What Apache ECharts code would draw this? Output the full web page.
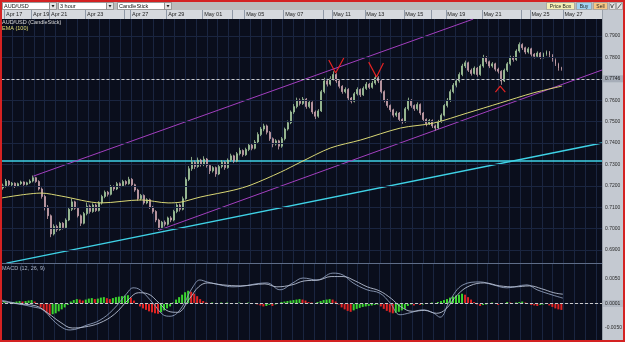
<!DOCTYPE html>
<html><head><meta charset="utf-8">
<script src="https://cdn.jsdelivr.net/npm/echarts@6/dist/echarts.min.js"></script>
<style>html,body{margin:0;padding:0;background:#fff}#c{width:625px;height:342px}</style>
</head><body><div id="c"></div>
<script>
// ---------------- DATA (prices in 1e-4 units, i.e. pips) ----------------
const SLOTS = 200; // 3-hour slots shown on the time axis
const dateTicks = [1,10,16,28,41,43,55,67,77,81,94,107,110,121,134,143,148,160,173,176,187];
const dateNames = ['Apr 17','Apr 19','Apr 21','Apr 23','','Apr 27','Apr 29','May 01','','May 05','May 07','','May 11','May 13','May 15','','May 19','May 21','','May 25','May 27'];

const opens = [7190,7200,7222,7205,7212,7198,7210,7218,7206,7214, 7222,7238,7220,7185,7150,7100,7060,6975,7010,6995, 7025,7005,7040,7090,7125,7095,7060,7025,7070,7105, 7080,7110,7085,7120,7150,7170,7160,7195,7185,7210, 7200,7220,7210,7230,7205,7180,7140,7155,7120,7135, 7100,7080,7040,7005,7030,7020,7050,7040,7080,7110, 7090,7140,7230,7280,7310,7290,7320,7300,7325,7295, 7270,7285,7255,7290,7310,7285,7320,7340,7315,7350, 7365,7345,7370,7390,7375,7405,7440,7465,7480,7450, 7420,7395,7410,7385,7420,7465,7495,7545,7570,7600, 7585,7605,7570,7590,7545,7525,7550,7640,7690,7675, 7700,7720,7690,7665,7640,7650,7610,7595,7630,7650, 7625,7655,7675,7660,7680,7705,7690,7640,7600,7575, 7555,7530,7540,7510,7500,7560,7600,7575,7560,7580, 7540,7510,7490,7505,7480,7470,7500,7530,7575,7600, 7640,7670,7690,7720,7760,7775,7740,7725,7750,7720, 7760,7800,7780,7760,7770,7745,7735,7690,7740,7770, 7800,7790,7830,7860,7845,7825,7840,7815,7805,7820, 7800,7815,7825,7810,7790,7770,7750];
const closes = [7200,7222,7205,7212,7198,7210,7218,7206,7214,7222, 7238,7220,7185,7150,7100,7060,6975,7010,6995,7025, 7005,7040,7090,7125,7095,7060,7025,7070,7105,7080, 7110,7085,7120,7150,7170,7160,7195,7185,7210,7200, 7220,7210,7230,7205,7180,7140,7155,7120,7135,7100, 7080,7040,7005,7030,7020,7050,7040,7080,7110,7090, 7140,7230,7280,7310,7290,7320,7300,7325,7295,7270, 7285,7255,7290,7310,7285,7320,7340,7315,7350,7365, 7345,7370,7390,7375,7405,7440,7465,7480,7450,7420, 7395,7410,7385,7420,7465,7495,7545,7570,7600,7585, 7605,7570,7590,7545,7525,7550,7640,7690,7675,7700, 7720,7690,7665,7640,7650,7610,7595,7630,7650,7625, 7655,7675,7660,7680,7705,7690,7640,7600,7575,7555, 7530,7540,7510,7500,7560,7600,7575,7560,7580,7540, 7510,7490,7505,7480,7470,7500,7530,7575,7600,7640, 7670,7690,7720,7760,7775,7740,7725,7750,7720,7760, 7800,7780,7760,7770,7745,7735,7690,7740,7770,7800, 7790,7830,7860,7845,7825,7840,7815,7805,7820,7800, 7815,7825,7810,7790,7770,7750,7746];
const lows = [7182,7192,7198,7199,7190,7194,7204,7200,7202,7209, 7216,7214,7178,7140,7085,7045,6960,6968,6985,6990, 6996,7000,7035,7082,7088,7052,7012,7020,7062,7070, 7074,7078,7080,7112,7142,7150,7155,7176,7180,7192, 7195,7202,7205,7198,7172,7130,7132,7112,7114,7092, 7070,7030,6993,6998,7010,7014,7030,7034,7072,7080, 7085,7135,7222,7270,7278,7284,7290,7292,7285,7255, 7262,7242,7250,7282,7275,7280,7312,7306,7310,7342, 7336,7340,7362,7366,7370,7398,7432,7455,7440,7410, 7380,7388,7370,7378,7412,7458,7488,7536,7562,7575, 7578,7560,7562,7535,7512,7518,7545,7632,7664,7668, 7692,7680,7655,7630,7632,7598,7585,7590,7622,7615, 7620,7648,7652,7654,7672,7680,7632,7590,7565,7545, 7520,7522,7500,7490,7495,7552,7565,7550,7552,7530, 7500,7478,7484,7470,7458,7465,7494,7524,7566,7592, 7632,7660,7682,7712,7750,7732,7715,7720,7710,7714, 7752,7770,7750,7752,7735,7725,7672,7685,7732,7762, 7780,7784,7822,7835,7815,7818,7805,7795,7798,7792, 7795,7808,7800,7780,7760,7738,7738];
const highs = [7210,7232,7226,7218,7216,7215,7224,7221,7219,7230, 7248,7242,7226,7192,7158,7110,7066,7020,7018,7032, 7030,7048,7098,7140,7130,7100,7066,7078,7122,7112, 7118,7116,7128,7158,7178,7176,7204,7202,7218,7216, 7228,7226,7242,7236,7210,7186,7162,7160,7142,7140, 7106,7086,7046,7036,7038,7056,7058,7088,7118,7116, 7150,7240,7292,7335,7318,7332,7326,7338,7330,7300, 7292,7290,7298,7320,7316,7328,7350,7345,7358,7378, 7370,7378,7400,7396,7414,7450,7475,7490,7486,7456, 7426,7418,7415,7428,7472,7505,7552,7582,7612,7608, 7615,7610,7598,7595,7552,7558,7648,7705,7700,7712, 7735,7726,7696,7670,7660,7656,7615,7638,7660,7655, 7664,7685,7680,7690,7720,7712,7695,7646,7606,7580, 7560,7548,7545,7515,7568,7612,7605,7580,7590,7585, 7545,7515,7512,7510,7486,7508,7538,7582,7610,7650, 7680,7700,7730,7770,7785,7780,7748,7758,7755,7768, 7812,7806,7785,7778,7775,7752,7740,7748,7778,7808, 7806,7838,7870,7866,7850,7848,7845,7820,7828,7825, 7822,7832,7830,7815,7795,7775,7756];

// EMA(100): [slot, price]
const emaPts = [[0,7143],[13.3,7166],[19.9,7152],[33.2,7120],[46.5,7134],[55.5,7120],[59.8,7124],[66.4,7148],[77.4,7180],[83.1,7204],[93,7264],[99.7,7311],[109.6,7377],[119.6,7414],[132.9,7470],[143.9,7493],[155.1,7540],[166.1,7587],[177.1,7634],[186.7,7666]];
// hand-drawn trend lines: [slot, price]
const channelUpper = [[10.6,7245],[157.1,7979]];
const channelLower = [[52.5,6993],[200,7741]];
const supportRising = [[1.66,6839],[200,7400]];
const levelFlat = [[0,7316],[200,7316]];
// red annotation marks
const markV1 = [[109.0,7788],[111.3,7727],[114.0,7797]];
const markV2 = [[122.3,7778],[124.9,7708],[127.2,7774]];
const markCaret = [[164.5,7638],[166.1,7666],[167.8,7638]];

// MACD (12,26,9), values in 1e-4
const macdLine = [[0.5,7],[3.3,3],[11,-7],[14.3,-13],[17.6,-34],[20.9,-50],[23.3,-54],[28.9,-44],[33.2,-34],[37.5,-13],[42.2,21],[44.2,32],[46.5,28],[50.8,1],[54.2,-23],[56.5,-26],[59.8,-13],[64.1,34],[66.4,48],[68.8,44],[73.1,38],[77.4,34],[88.7,42],[93,28],[97.3,42],[100.7,52],[105.3,48],[110.6,62],[114,58],[117.3,42],[121.9,28],[126.2,21],[129.6,1],[132.9,-23],[136.2,-19],[140.5,-13],[143.9,-19],[146.2,-28],[149.5,7],[153.8,38],[159.5,44],[163.8,38],[168.4,32],[175.1,38],[178.4,28],[183.7,17],[187,11]];
const signalLine = [[0.5,5],[5,0],[12,-5],[16,-20],[20,-38],[24,-50],[28,-48],[33,-40],[38,-22],[43,10],[46,22],[49,20],[53,0],[56,-16],[59,-18],[63,10],[66,34],[69,42],[74,38],[80,36],[88,40],[92,34],[97,38],[101,46],[106,48],[110,55],[114,55],[118,46],[122,34],[126,26],[130,10],[133,-6],[137,-16],[141,-14],[145,-20],[148,-12],[152,18],[156,36],[161,42],[166,36],[171,34],[176,36],[180,30],[184,22],[187,19]];
const histogram = [2,3,-1,2,3,4,5,4,5,6, 7,4,-2,-8,-14,-19,-24,-22,-20,-16, -12,-8,-3,4,7,9,8,6,8,10, 11,9,10,12,13,11,9,11,13,14, 15,16,17,12,6,0,-6,-10,-13,-16, -18,-20,-21,-18,-14,-10,-6,2,8,13, 18,23,26,24,20,15,9,5,2,1, 2,-1,1,2,1,2,1,0,1,2, 1,1,2,1,0,-2,-4,-6,-5,-3, -5,-2,1,3,4,5,6,7,8,9, 8,6,3,2,1,3,5,7,8,9, 8,4,-2,-8,-12,-15,-17,-14,-11,-9, -7,-6,-5,-4,-3,-2,-6,-11,-15,-18, -20,-19,-17,-14,-11,-5,-2,-4,-1,-3, -2,-1,1,2,1,3,5,7,9,12, 14,16,18,20,18,13,8,3,-2,-5, -3,-2,1,2,-1,-3,-1,1,3,2, 1,2,3,4,2,-1,-3,-4,-5,-3, -2,-1,-4,-7,-10,-12,-13];

// axis ticks
const priceTicks = [0.69,0.70,0.71,0.72,0.73,0.74,0.75,0.76,0.77,0.78,0.79];
const priceGrid = [0.685,0.69,0.695,0.70,0.705,0.71,0.715,0.72,0.725,0.73,0.735,0.74,0.745,0.75,0.755,0.76,0.765,0.77,0.775,0.78,0.785,0.79,0.795];
const macdTicks = [0.005,-0.005];
const macdGrid = [-0.0075,-0.005,-0.0025,0.0025,0.005,0.0075];
const macdZeroText = '0.0001';

// ---------------- BUILD ----------------
const P = v => v / 10000;
const FONT = "'Liberation Sans Narrow','Liberation Sans',sans-serif";
const slotNames = Array.from({length: SLOTS}, (_, i) => String(i));
const labelMap = {};
dateTicks.forEach((t, k) => { labelMap[String(t)] = dateNames[k]; });
const tickSet = new Set(dateTicks);
const candles = closes.map((c, i) => [P(opens[i]), P(c), P(lows[i]), P(highs[i])]);
const pts = a => a.map(p => [p[0], P(p[1])]);
const lastPrice = P(closes[closes.length - 1]);

const W = 625, H = 342;
const mainTop = 19, mainBot = 263, macdTop = 264, macdBot = 340, plotRight = 602;
// price scale: 0.79 at y=36, 0.69 at y=250
const pxPerUnit = 2140;
const yMax = 0.79 + (36 - mainTop) / pxPerUnit;
const yMin = 0.69 - (mainBot - 250) / pxPerUnit;
// macd scale: 0 at y=303.5, 0.005 at y=279
const mPx = 4900;
const mMax = (303.5 - macdTop) / mPx;
const mMin = -(macdBot - 303.5) / mPx;

const chart = echarts.init(document.getElementById('c'));
const gridCol = '#1a2540';
const bull = '#a3c79c', bear = '#c9a2ac';

const hLines = (vals) => ({
  silent: true, symbol: ['none', 'none'], animation: false,
  label: {show: false},
  lineStyle: {color: gridCol, type: 'solid', width: 1},
  data: vals.map(v => ({yAxis: v}))
});

const option = {
  animation: false,
  backgroundColor: '#0a0e1c',
  grid: [
    {left: 0, right: W - plotRight, top: mainTop, height: mainBot - mainTop},
    {left: 0, right: W - plotRight, top: macdTop, height: macdBot - macdTop}
  ],
  xAxis: [
    {type: 'category', gridIndex: 0, position: 'top', data: slotNames, boundaryGap: true,
     axisLine: {show: false},
     axisTick: {show: true, interval: (i) => tickSet.has(i), length: 9, lineStyle: {color: '#8f98a6', width: 1}},
     axisLabel: {show: true, interval: 0, formatter: (v) => labelMap[v] || '', align: 'left', margin: 2,
       fontSize: 5.5, fontFamily: FONT, color: '#1e1e1e'},
     splitLine: {show: false}},
    {type: 'value', gridIndex: 0, min: 0, max: SLOTS, interval: 3.6, show: true,
     axisLine: {show: false}, axisTick: {show: false}, axisLabel: {show: false},
     splitLine: {show: true, lineStyle: {color: gridCol, width: 1}}},
    {type: 'category', gridIndex: 1, data: slotNames, boundaryGap: true,
     axisLine: {show: false}, axisTick: {show: false}, axisLabel: {show: false}, splitLine: {show: false}},
    {type: 'value', gridIndex: 1, min: 0, max: SLOTS, interval: 3.6,
     axisLine: {show: false}, axisTick: {show: false}, axisLabel: {show: false},
     splitLine: {show: true, lineStyle: {color: gridCol, width: 1}}}
  ],
  yAxis: [
    {type: 'value', gridIndex: 0, position: 'right', min: yMin, max: yMax, scale: true,
     axisLine: {show: false}, axisTick: {show: false, customValues: priceTicks}, splitLine: {show: false},
     axisLabel: {customValues: priceTicks, formatter: v => v.toFixed(4), fontSize: 5, fontFamily: FONT, color: '#2b2b2b', margin: 3}},
    {type: 'value', gridIndex: 1, position: 'right', min: mMin, max: mMax, scale: true,
     axisLine: {show: false}, axisTick: {show: false, customValues: macdTicks}, splitLine: {show: false},
     axisLabel: {customValues: macdTicks, formatter: v => v.toFixed(4), fontSize: 5, fontFamily: FONT, color: '#2b2b2b', margin: 3}}
  ],
  series: [
    {type: 'line', name: 'gridMain', xAxisIndex: 1, yAxisIndex: 0, data: [], z: 0, silent: true, markLine: hLines(priceGrid)},
    {type: 'line', name: 'gridMacd', xAxisIndex: 3, yAxisIndex: 1, data: [], z: 0, silent: true, markLine: hLines(macdGrid)},
    {type: 'line', name: 'level', xAxisIndex: 1, yAxisIndex: 0, data: pts(levelFlat), symbol: 'none', z: 3,
     lineStyle: {color: '#3fd2e6', width: 1.3}},
    {type: 'line', name: 'support', xAxisIndex: 1, yAxisIndex: 0, data: pts(supportRising), symbol: 'none', z: 3,
     lineStyle: {color: '#3fd2e6', width: 1.3}},
    {type: 'line', name: 'chanU', xAxisIndex: 1, yAxisIndex: 0, data: pts(channelUpper), symbol: 'none', z: 3,
     lineStyle: {color: '#a33fbf', width: 1}},
    {type: 'line', name: 'chanL', xAxisIndex: 1, yAxisIndex: 0, data: pts(channelLower), symbol: 'none', z: 3,
     lineStyle: {color: '#a33fbf', width: 1}},
    {type: 'candlestick', name: 'AUD/USD', xAxisIndex: 0, yAxisIndex: 0, data: candles, barWidth: 1.4, z: 4,
     itemStyle: {color: bull, color0: bear, borderColor: bull, borderColor0: bear, borderWidth: 0.8},
     markLine: {silent: true, symbol: ['none', 'none'], animation: false,
       lineStyle: {color: '#c9c9c9', type: [3, 2], width: 1},
       label: {position: 'end', distance: 0, formatter: () => lastPrice.toFixed(4), fontSize: 5, fontFamily: FONT,
         color: '#1e1e1e', backgroundColor: '#a6adb8', padding: [1, 5, 1, 3]},
       data: [{yAxis: lastPrice}]}},
    {type: 'line', name: 'EMA (100)', xAxisIndex: 1, yAxisIndex: 0, data: pts(emaPts), symbol: 'none', smooth: 0.3, z: 5,
     lineStyle: {color: '#d9d775', width: 1}},
    {type: 'line', name: 'v1', xAxisIndex: 1, yAxisIndex: 0, data: pts(markV1), symbol: 'none', z: 6, lineStyle: {color: '#e52222', width: 1.2}},
    {type: 'line', name: 'v2', xAxisIndex: 1, yAxisIndex: 0, data: pts(markV2), symbol: 'none', z: 6, lineStyle: {color: '#e52222', width: 1.2}},
    {type: 'line', name: 'caret', xAxisIndex: 1, yAxisIndex: 0, data: pts(markCaret), symbol: 'none', z: 6, lineStyle: {color: '#e52222', width: 1.2}},
    {type: 'bar', name: 'hist', xAxisIndex: 2, yAxisIndex: 1, barWidth: 2, z: 3,
     data: histogram.map((v, i) => ({value: P(v), itemStyle: {color: (i === 0 || v >= histogram[i - 1]) ? '#3bd42f' : '#e02424'}})),
     markLine: {silent: true, symbol: ['none', 'none'], animation: false,
       lineStyle: {color: '#c9c9c9', type: [3, 2], width: 1},
       label: {position: 'end', distance: 0, formatter: macdZeroText, fontSize: 5, fontFamily: FONT,
         color: '#1e1e1e', backgroundColor: '#b3b9c3', padding: [1, 5, 1, 3]},
       data: [{yAxis: 0}]}},
    {type: 'line', name: 'macd', xAxisIndex: 3, yAxisIndex: 1, data: pts(macdLine), symbol: 'none', smooth: 0.4, z: 5,
     lineStyle: {color: '#8f9dba', width: 0.9}},
    {type: 'line', name: 'signal', xAxisIndex: 3, yAxisIndex: 1, data: pts(signalLine), symbol: 'none', smooth: 0.4, z: 5,
     lineStyle: {color: '#b7c0d3', width: 0.9}}
  ],
  graphic: [
    // panels
    {type: 'rect', z: -10, shape: {x: 0, y: 0, width: W, height: 10}, style: {fill: '#bcbcbc'}},
    {type: 'rect', z: -10, shape: {x: 0, y: 10, width: plotRight, height: 9}, style: {fill: '#d6d9de'}},
    {type: 'rect', z: -10, shape: {x: plotRight, y: 10, width: W - plotRight, height: H - 10}, style: {fill: '#c4c9d1'}},
    {type: 'line', z: 8, shape: {x1: 0, y1: 263.5, x2: plotRight, y2: 263.5}, style: {stroke: '#5f6d88', lineWidth: 1}},
    {type: 'line', z: 8, shape: {x1: plotRight + 0.5, y1: 10, x2: plotRight + 0.5, y2: H}, style: {stroke: '#9aa1ab', lineWidth: 1}},
    // toolbar dropdowns
    {type: 'rect', z: 5, shape: {x: 2.5, y: 2.5, width: 47, height: 7}, style: {fill: '#ffffff', stroke: '#7d7d7d', lineWidth: 0.7}},
    {type: 'rect', z: 5, shape: {x: 49.5, y: 2.5, width: 7, height: 7}, style: {fill: '#e4e4e4', stroke: '#7d7d7d', lineWidth: 0.7}},
    {type: 'polygon', z: 6, shape: {points: [[51.5, 5], [54.5, 5], [53, 7.5]]}, style: {fill: '#222'}},
    {type: 'text', z: 6, style: {x: 4, y: 6.2, text: 'AUD/USD', fontSize: 5.5, fontFamily: FONT, fill: '#111', verticalAlign: 'middle'}},
    {type: 'rect', z: 5, shape: {x: 58.5, y: 2.5, width: 48, height: 7}, style: {fill: '#ffffff', stroke: '#7d7d7d', lineWidth: 0.7}},
    {type: 'rect', z: 5, shape: {x: 106.5, y: 2.5, width: 7, height: 7}, style: {fill: '#e4e4e4', stroke: '#7d7d7d', lineWidth: 0.7}},
    {type: 'polygon', z: 6, shape: {points: [[108.5, 5], [111.5, 5], [110, 7.5]]}, style: {fill: '#222'}},
    {type: 'text', z: 6, style: {x: 60, y: 6.2, text: '3 hour', fontSize: 5.5, fontFamily: FONT, fill: '#111', verticalAlign: 'middle'}},
    {type: 'rect', z: 5, shape: {x: 117.5, y: 2.5, width: 47, height: 7}, style: {fill: '#ffffff', stroke: '#7d7d7d', lineWidth: 0.7}},
    {type: 'rect', z: 5, shape: {x: 164.5, y: 2.5, width: 7, height: 7}, style: {fill: '#e4e4e4', stroke: '#7d7d7d', lineWidth: 0.7}},
    {type: 'polygon', z: 6, shape: {points: [[166.5, 5], [169.5, 5], [168, 7.5]]}, style: {fill: '#222'}},
    {type: 'text', z: 6, style: {x: 119, y: 6.2, text: 'CandleStick', fontSize: 5.5, fontFamily: FONT, fill: '#111', verticalAlign: 'middle'}},
    // toolbar buttons
    {type: 'rect', z: 5, shape: {x: 546.5, y: 2.5, width: 28, height: 7}, style: {fill: '#f4efb6', stroke: '#9a9a9a', lineWidth: 0.7}},
    {type: 'text', z: 6, style: {x: 560.5, y: 6.2, text: 'Price Box', fontSize: 5, fontFamily: FONT, fill: '#222', align: 'center', verticalAlign: 'middle'}},
    {type: 'rect', z: 5, shape: {x: 576.5, y: 2.5, width: 15, height: 7}, style: {fill: '#9fd2f2', stroke: '#9a9a9a', lineWidth: 0.7}},
    {type: 'text', z: 6, style: {x: 584, y: 6.2, text: 'Buy', fontSize: 5, fontFamily: FONT, fill: '#222', align: 'center', verticalAlign: 'middle'}},
    {type: 'rect', z: 5, shape: {x: 593.5, y: 2.5, width: 14, height: 7}, style: {fill: '#f6c684', stroke: '#9a9a9a', lineWidth: 0.7}},
    {type: 'text', z: 6, style: {x: 600.5, y: 6.2, text: 'Sell', fontSize: 5, fontFamily: FONT, fill: '#222', align: 'center', verticalAlign: 'middle'}},
    {type: 'rect', z: 5, shape: {x: 609.5, y: 2.5, width: 6, height: 7}, style: {fill: '#e2e2e2', stroke: '#9a9a9a', lineWidth: 0.7}},
    {type: 'polyline', z: 6, shape: {points: [[610.5, 4], [612, 8], [613, 5], [614.5, 4]]}, style: {stroke: '#333', lineWidth: 0.7, fill: null}},
    {type: 'rect', z: 5, shape: {x: 616.5, y: 2.5, width: 6, height: 7}, style: {fill: '#e2e2e2', stroke: '#9a9a9a', lineWidth: 0.7}},
    {type: 'line', z: 6, shape: {x1: 617.5, y1: 8.5, x2: 621.5, y2: 3.5}, style: {stroke: '#333', lineWidth: 0.8}},
    // legend texts inside panels
    {type: 'text', z: 9, style: {x: 2, y: 19.5, text: 'AUD/USD (CandleStick)', fontSize: 5.5, fontFamily: FONT, fill: '#dcdcdc'}},
    {type: 'text', z: 9, style: {x: 2, y: 25, text: 'EMA (100)', fontSize: 5.5, fontFamily: FONT, fill: '#e3df73'}},
    {type: 'text', z: 9, style: {x: 2, y: 265, text: 'MACD (12, 26, 9)', fontSize: 5.5, fontFamily: FONT, fill: '#aab3c6'}},
    // frame
    {type: 'rect', z: 100, shape: {x: 1, y: 1, width: W - 2, height: H - 2}, style: {fill: null, stroke: '#d42222', lineWidth: 2}}
  ]
};
chart.setOption(option);
</script>
</body></html>
